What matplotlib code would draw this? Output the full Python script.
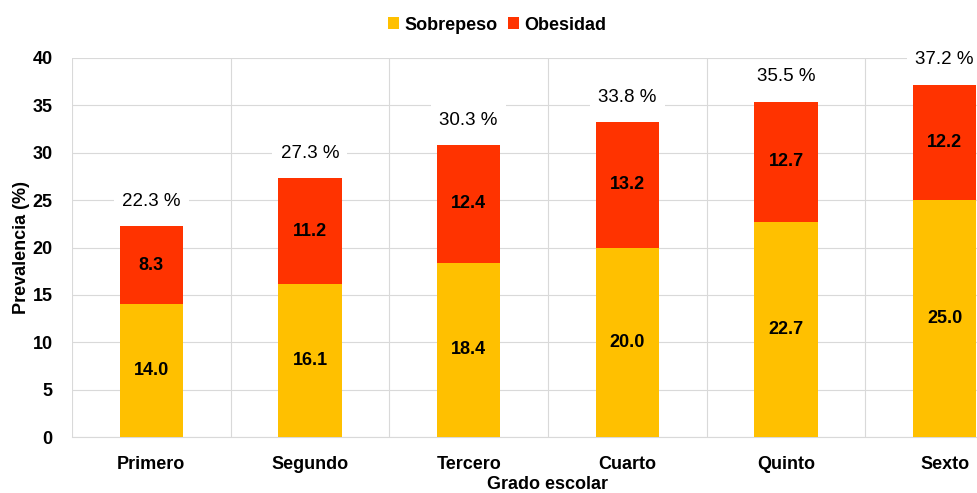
import numpy as np
from matplotlib import pyplot as plt

# data
grados = ["Primero", "Segundo", "Tercero", "Cuarto", "Quinto", "Sexto"]
sobrepeso = [14.0, 16.1, 18.4, 20.0, 22.7, 25.0]
obesidad = [8.3, 11.2, 12.4, 13.2, 12.7, 12.2]
totales = ["22.3 %", "27.3 %", "30.3 %", "33.8 %", "35.5 %", "37.2 %"]

plt.rcParams['font.family'] = ['Liberation Sans', 'DejaVu Sans']
amarillo = '#FFC000'
rojo = '#FF3300'

fig = plt.figure(figsize=(9.78, 4.93), dpi=100)
# the original chart is cut off on the right, so the axes run past the figure edge
ax = fig.add_axes([72/978, 1-437/493, 952/978, 379/493])

x = np.arange(len(grados))
ax.bar(x, sobrepeso, width=0.4, color=amarillo, label='Sobrepeso', zorder=3)
ax.bar(x, obesidad, width=0.4, bottom=sobrepeso, color=rojo, label='Obesidad', zorder=3)

for i in range(len(grados)):
    ax.text(x[i], sobrepeso[i]/2, f"{sobrepeso[i]:.1f}", ha='center', va='center',
            fontsize=13, fontweight='bold', zorder=4)
    ax.text(x[i], sobrepeso[i] + obesidad[i]/2, f"{obesidad[i]:.1f}", ha='center', va='center',
            fontsize=13, fontweight='bold', zorder=4)
    top = sobrepeso[i] + obesidad[i]
    ax.text(x[i], top + 2.6, totales[i], ha='center', va='center', fontsize=13.5,
            zorder=4, bbox=dict(facecolor='white', edgecolor='none', pad=6))

ax.set_xlim(-0.5, len(grados) - 0.5)
ax.set_ylim(0, 40)
ax.set_yticks(np.arange(0, 41, 5))
ax.set_xticks(x)
ax.set_xticklabels(grados, fontsize=13, fontweight='bold')
ax.set_xticks(np.arange(-0.5, len(grados), 1), minor=True)
for lab in ax.get_yticklabels():
    lab.set_fontsize(13)
    lab.set_fontweight('bold')
ax.tick_params(axis='both', which='both', length=0)
ax.tick_params(axis='x', pad=14)
ax.tick_params(axis='y', pad=14)

ax.grid(axis='y', color='#d9d9d9', linewidth=0.8, zorder=0)
ax.grid(axis='x', which='minor', color='#d9d9d9', linewidth=0.8, zorder=0)
ax.grid(axis='x', which='major', visible=False)
for s in ['top', 'right', 'left']:
    ax.spines[s].set_visible(False)
ax.spines['bottom'].set_color('#d9d9d9')

ax.set_ylabel("Prevalencia (%)", fontsize=13, fontweight='bold', labelpad=2)
ax.set_xlabel("Grado escolar", fontsize=13, fontweight='bold', labelpad=2)

fig.legend(loc='center', bbox_to_anchor=(497/978, 1-25/493), ncol=2, frameon=False,
           prop={'weight': 'bold', 'size': 13}, handlelength=0.6, handleheight=0.6,
           handletextpad=0.3, columnspacing=0.6)

plt.savefig('out.png', dpi=100)
